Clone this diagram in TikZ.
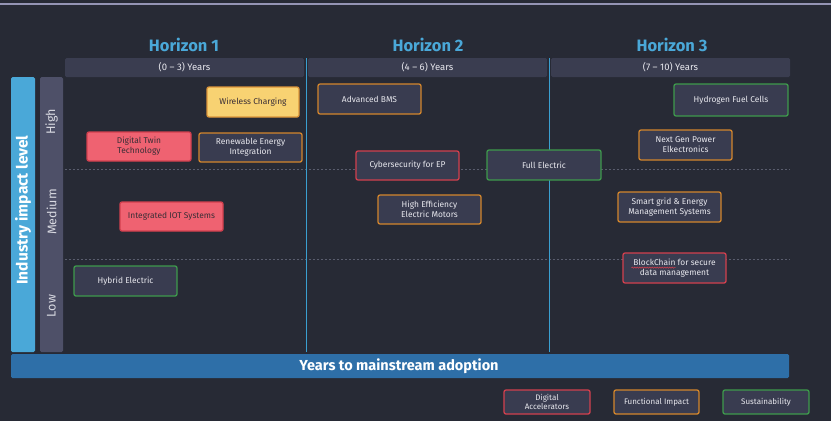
\documentclass[tikz,border=0pt]{standalone}
\usepackage{fontspec}
\setmainfont{Fira Sans}
\usetikzlibrary{decorations.pathmorphing}
\definecolor{bg}{HTML}{272A35}
\definecolor{topline}{HTML}{9494B4}
\definecolor{hblue}{HTML}{4AA8D8}
\definecolor{hdrbar}{HTML}{3A3D50}
\definecolor{lvlbar}{HTML}{4E5068}
\definecolor{vline}{HTML}{3A9FD0}
\definecolor{sepgray}{HTML}{5A5D6E}
\definecolor{botbar}{HTML}{2E6FA8}
\definecolor{boxfill}{HTML}{393C50}
\definecolor{cor}{HTML}{D4862C}
\definecolor{cgr}{HTML}{3E9A4C}
\definecolor{cred}{HTML}{D2404E}
\definecolor{redfill}{HTML}{EF6271}
\definecolor{yelfill}{HTML}{F8D272}
\definecolor{txt}{HTML}{E8E8EE}
\definecolor{darktxt}{HTML}{3A2E36}
\tikzset{
  box/.style={draw, line width=1.3pt, rounded corners=2pt, fill=boxfill, text=txt,
    inner sep=0pt, align=center, font=\fontsize{8.4}{9.8}\selectfont},
  orbox/.style={box, draw=cor},
  grbox/.style={box, draw=cgr},
  rdbox/.style={box, draw=cred},
  redfilled/.style={box, draw=cred, fill=redfill, text=darktxt},
  yelfilled/.style={box, draw=cor!80!yelfill, fill=yelfill, text=darktxt},
  horizon/.style={text=hblue, font=\fontsize{16.5}{19}\selectfont\bfseries},
  yearbar/.style={fill=hdrbar, rounded corners=1.5pt, text=txt, inner sep=0pt,
    font=\fontsize{9.5}{11}\selectfont},
  lvltxt/.style={rotate=90, text=txt!90!lvlbar, font=\fontsize{12.5}{14}\selectfont},
  sepline/.style={draw=sepgray, line width=0.6pt, dash pattern=on 2pt off 2pt},
  horline/.style={draw=vline, line width=0.8pt},
  legbox/.style={box, minimum width=86pt, minimum height=24pt, font=\fontsize{8}{9.3}\selectfont},
}
\begin{document}
\begin{tikzpicture}[x=1pt,y=-1pt]
\useasboundingbox (0,0) rectangle (831,421);
\fill[bg] (0,0) rectangle (831,421);
\draw[topline, line width=1.4pt] (0,4) -- (831,4);

% horizon titles
\node[horizon] (h1) at (184,45) {Horizon 1};
\node[horizon] (h2) at (428,45) {Horizon 2};
\node[horizon] (h3) at (672,45) {Horizon 3};

% year bars
\node[yearbar, minimum width=239pt, minimum height=19pt] (y1) at (184.5,67.5) {(0 – 3) Years};
\node[yearbar, minimum width=239pt, minimum height=19pt] (y2) at (427.5,67.5) {(4 – 6) Years};
\node[yearbar, minimum width=239pt, minimum height=19pt] (y3) at (670.5,67.5) {(7 – 10) Years};

% horizontal dashed separators
\draw[sepline] (65,169) -- (790,169);
\draw[sepline] (65,259.5) -- (790,259.5);

% vertical horizon separators
\coordinate (v1t) at (306,58); \coordinate (v1b) at (306,352);
\coordinate (v2t) at (549,58); \coordinate (v2b) at (549,352);
\draw[horline] (v1t) -- (v1b);
\draw[horline] (v2t) -- (v2b);

% left axis bars
\fill[hblue, rounded corners=1.5pt] (11,77) rectangle (35,352);
\node[rotate=90, text=white, font=\fontsize{15.5}{18}\selectfont\bfseries] (ail) at (23,210) {Industry impact level};
\fill[lvlbar, rounded corners=1.5pt] (40,77) rectangle (63,352);
\node[lvltxt] (lh) at (51.5,122) {High};
\node[lvltxt] (lm) at (51.5,212) {Medium};
\node[lvltxt] (ll) at (51.5,306) {Low};

% bottom bar
\fill[botbar, rounded corners=1.5pt] (11,354) rectangle (789,378);
\node[text=white, font=\fontsize{14.5}{17}\selectfont\bfseries] (yma) at (399,366) {Years to mainstream adoption};

% technology boxes
\node[yelfilled, minimum width=92pt, minimum height=30pt] (wc) at (253,102) {Wireless Charging};
\node[redfilled, minimum width=104pt, minimum height=29pt] (dt) at (139,146.5) {Digital Twin\\Technology};
\node[orbox, minimum width=103pt, minimum height=29pt] (re) at (250.5,147.5) {Renewable Energy\\Integration};
\node[redfilled, minimum width=103pt, minimum height=29pt] (iot) at (171.5,216.5) {Integrated IOT Systems};
\node[orbox, minimum width=103pt, minimum height=30pt] (bms) at (369.5,99) {Advanced BMS};
\node[rdbox, minimum width=103pt, minimum height=29pt] (cyb) at (407.5,165.5) {Cybersecurity for EP};
\node[grbox, minimum width=114pt, minimum height=30pt] (fe) at (544,165) {Full Electric};
\node[orbox, minimum width=103pt, minimum height=29pt] (hem) at (429.5,209.5) {High Efficiency\\Electric Motors};
\node[grbox, minimum width=114pt, minimum height=32pt] (hfc) at (731,100) {Hydrogen Fuel Cells};
\node[orbox, minimum width=93pt, minimum height=30pt] (ngp) at (685.5,145) {Next Gen Power\\Elkectronics};
\node[orbox, minimum width=103pt, minimum height=30pt] (sg) at (669.5,207) {Smart grid \& Energy\\Management Systems};
\node[rdbox, minimum width=103pt, minimum height=30pt] (bc) at (674.5,268) {BlockChain for secure\\data management};
\node[grbox, minimum width=103pt, minimum height=30pt] (he) at (125.5,281) {Hybrid Electric};
% spell-check squiggle under "BlockChain"
\draw[cred, line width=0.6pt, decorate, decoration={snake, amplitude=0.6pt, segment length=2.5pt}]
  ([xshift=-43pt,yshift=0.4pt]bc.center) -- ([xshift=1pt,yshift=0.4pt]bc.center);

% legend
\node[legbox, draw=cred] (lda) at (547,402) {Digital\\Accelerators};
\node[legbox, draw=cor, minimum width=85pt] (lfi) at (656.5,402) {Functional Impact};
\node[legbox, draw=cgr] (lsu) at (766,402) {Sustainability};
\end{tikzpicture}
\end{document}
